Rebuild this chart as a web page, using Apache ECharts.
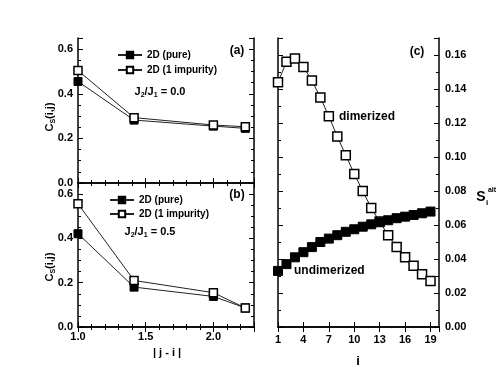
<!DOCTYPE html>
<html>
<head>
<meta charset="utf-8">
<script src="https://cdn.jsdelivr.net/npm/echarts@6/dist/echarts.min.js"></script>
<style>
  html, body { margin: 0; padding: 0; background: #fff; }
  #chart { width: 503px; height: 382px; }
</style>
</head>
<body>
<div id="chart"></div>
<script>
// |j - i| distances for panels (a), (b)
const dist = [1.0, 1.414, 2.0, 2.236];
const pureA = [0.455, 0.282, 0.255, 0.245];
const impA = [0.504, 0.293, 0.260, 0.252];
const pureB = [0.421, 0.180, 0.138, 0.086];
const impB = [0.556, 0.210, 0.155, 0.086];

// site index for panel (c)
const sites = [1, 2, 3, 4, 5, 6, 7, 8, 9, 10, 11, 12, 13, 14, 15, 16, 17, 18, 19];
const dimerized = [0.144, 0.156, 0.158, 0.153, 0.145, 0.135, 0.124, 0.112, 0.101, 0.090,
  0.080, 0.070, 0.062, 0.054, 0.047, 0.041, 0.036, 0.031, 0.027];
const undimerized = [0.033, 0.037, 0.041, 0.044, 0.047, 0.050, 0.052, 0.054, 0.056, 0.0575,
  0.059, 0.0604, 0.0616, 0.0628, 0.064, 0.0649, 0.0659, 0.0669, 0.0679];

const FONT = 'Liberation Sans';
const lineCol = '#222';

function zip(xs, ys) {
  return xs.map((x, i) => [x, ys[i]]);
}

const chart = echarts.init(document.getElementById('chart'));

const tickIn = { show: true, inside: true, length: 5, lineStyle: { color: '#000', width: 1 } };
const minorIn = { show: true, splitNumber: 4, length: 3, lineStyle: { color: '#000', width: 1 } };
const axLine = { show: true, lineStyle: { color: '#000', width: 1.5 } };
const lbl = { fontFamily: FONT, fontWeight: 'bold', fontSize: 11, color: '#000' };

function leftX(grid, pos, showLabel) {
  return {
    type: 'value', gridIndex: grid, position: pos, min: 1, max: 2.3, interval: 0.5,
    axisLine: axLine, axisTick: tickIn, minorTick: Object.assign({}, minorIn, { splitNumber: 5 }),
    splitLine: { show: false },
    axisLabel: Object.assign({ show: showLabel, margin: 4, showMaxLabel: false, formatter: v => v.toFixed(1) }, lbl)
  };
}
function leftY(grid, pos, showLabel) {
  return {
    type: 'value', gridIndex: grid, position: pos, min: 0, max: 0.65, interval: 0.2,
    axisLine: axLine, axisTick: tickIn, minorTick: minorIn, splitLine: { show: false },
    axisLabel: Object.assign({ show: showLabel, margin: 5, showMaxLabel: false, formatter: v => v.toFixed(1) }, lbl)
  };
}

function ser(name, x, y, data, filled, z, size) {
  return {
    name: name, type: 'line', xAxisIndex: x, yAxisIndex: y, data: data,
    symbol: 'rect', symbolSize: size || 8, showSymbol: true, z: z,
    lineStyle: { color: lineCol, width: 1 },
    itemStyle: filled ? { color: '#000', borderColor: '#000', borderWidth: 1 }
                      : { color: '#fff', borderColor: '#000', borderWidth: 1.5 },
    emphasis: { disabled: true }
  };
}

const subRich = {
  b: { fontFamily: FONT, fontWeight: 'bold', fontSize: 11, fill: '#000' },
  s: { fontFamily: FONT, fontWeight: 'bold', fontSize: 7, fill: '#000', padding: [7, 0, 0, 0] }
};

function txt(x, y, text, size, align) {
  return {
    type: 'text', x: x, y: y,
    style: { text: text, fontFamily: FONT, fontWeight: 'bold', fontSize: size || 11, fill: '#000',
      align: align || 'center', verticalAlign: 'middle' }
  };
}
function rtxt(x, y, text, rot) {
  return {
    type: 'text', x: x, y: y, rotation: rot || 0,
    style: { text: text, rich: subRich, align: 'center', verticalAlign: 'middle',
      fontFamily: FONT, fontWeight: 'bold', fontSize: 11, fill: '#000' }
  };
}

const option = {
  animation: false,
  grid: [
    { left: 78, top: 38, width: 176, height: 145 },
    { left: 78, top: 183, width: 176, height: 144 },
    { left: 278, top: 38, width: 161, height: 289 }
  ],
  legend: [
    {
      data: ['2D (pure)', '2D (1 impurity)'], orient: 'vertical', left: 112, top: 45,
      itemWidth: 24, itemHeight: 8, itemGap: 5,
      textStyle: { fontFamily: FONT, fontWeight: 'bold', fontSize: 10, color: '#000' }
    },
    {
      data: ['2D (pure)', '2D (1 impurity)'], orient: 'vertical', left: 104, top: 190,
      itemWidth: 24, itemHeight: 8, itemGap: 4,
      textStyle: { fontFamily: FONT, fontWeight: 'bold', fontSize: 10, color: '#000' }
    }
  ],
  xAxis: [
    leftX(0, 'bottom', false),
    leftX(0, 'top', false),
    leftX(1, 'bottom', true),
    leftX(1, 'top', false),
    {
      type: 'value', gridIndex: 2, position: 'bottom', min: 1, max: 20, interval: 3,
      axisLine: axLine, axisTick: tickIn, splitLine: { show: false },
      axisLabel: Object.assign({ margin: 7, showMaxLabel: false }, lbl)
    },
    {
      type: 'value', gridIndex: 2, position: 'top', min: 1, max: 20, interval: 3,
      axisLine: axLine, axisTick: tickIn, splitLine: { show: false },
      axisLabel: { show: false }
    }
  ],
  yAxis: [
    leftY(0, 'left', true),
    leftY(0, 'right', false),
    leftY(1, 'left', true),
    leftY(1, 'right', false),
    {
      type: 'value', gridIndex: 2, position: 'left', min: 0, max: 0.17, interval: 0.02,
      axisLine: axLine, axisTick: tickIn,
      minorTick: { show: true, splitNumber: 2, length: 3, lineStyle: { color: '#000' } },
      splitLine: { show: false }, axisLabel: { show: false }
    },
    {
      type: 'value', gridIndex: 2, position: 'right', min: 0, max: 0.17, interval: 0.02,
      axisLine: axLine, axisTick: tickIn,
      minorTick: { show: true, splitNumber: 2, length: 3, lineStyle: { color: '#000' } },
      splitLine: { show: false },
      axisLabel: Object.assign({ margin: 6, formatter: v => v.toFixed(2), showMaxLabel: false }, lbl)
    }
  ],
  series: [
    ser('2D (pure)', 0, 0, zip(dist, pureA), true, 2),
    ser('2D (1 impurity)', 0, 0, zip(dist, impA), false, 3),
    ser('2D (pure)', 2, 2, zip(dist, pureB), true, 2),
    ser('2D (1 impurity)', 2, 2, zip(dist, impB), false, 3),
    ser('dimerized', 4, 4, zip(sites, dimerized), false, 2, 9),
    ser('undimerized', 4, 4, zip(sites, undimerized), true, 3, 9)
  ],
  graphic: [
    txt(237, 51, '(a)', 12),
    txt(237, 195, '(b)', 12),
    txt(417, 52, '(c)', 12),
    rtxt(160, 92, 'J{s|2}/J{s|1} = 0.0'),
    rtxt(150, 232, 'J{s|2}/J{s|1} = 0.5'),
    rtxt(50, 117, 'C{s|S}(i,j)', Math.PI / 2),
    rtxt(50, 267, 'C{s|S}(i,j)', Math.PI / 2),
    txt(167, 353, '| j - i |', 11),
    txt(358, 361, 'i', 13),
    txt(367, 117, 'dimerized', 12),
    txt(294, 271, 'undimerized', 12, 'left'),
    txt(481, 197, 'S', 14),
    txt(492, 190, 'alt', 7),
    txt(487, 203, 'i', 8)
  ]
};

chart.setOption(option);
</script>
</body>
</html>
